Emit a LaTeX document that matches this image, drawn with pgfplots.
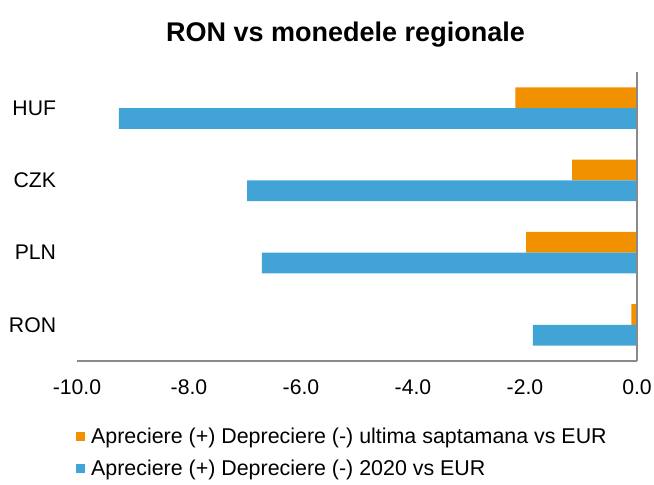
\documentclass[border=0pt]{standalone}
\usepackage{fontspec}
\setmainfont{Liberation Sans}
\usepackage{pgfplots}
\pgfplotsset{compat=1.18}
\definecolor{orangeA}{RGB}{242,145,0}
\definecolor{blueB}{RGB}{65,163,214}
\definecolor{axgray}{RGB}{137,137,137}
\begin{document}
\begin{tikzpicture}
\begin{axis}[
  scale only axis,
  width=280pt, height=144.5pt,
  xmin=-10, xmax=0, ymin=-0.5, ymax=3.5,
  xbar, bar width=10.35pt,
  xtick={-10,-8,-6,-4,-2,0},
  ytick={0,1,2,3},
  yticklabels={RON,PLN,CZK,HUF},
  axis x line*=bottom, axis y line*=left,
  y axis line style={draw=none},
  x axis line style={draw=axgray, line width=0.75pt, -},
  xtick style={draw=none}, ytick style={draw=none},
  /pgf/number format/.cd, fixed, fixed zerofill, precision=1, assume math mode=true,
  /pgfplots/.cd,
  xticklabel style={font=\fontsize{10.6}{12}\selectfont, anchor=center, yshift=-13.3pt},
  yticklabel style={font=\fontsize{10.6}{12}\selectfont, anchor=east, inner sep=0pt, xshift=-6pt},
  legend style={at={(axis description cs:0,0)}, anchor=west, xshift=-0.5pt, yshift=-46.5pt,
    draw=none, fill=none, inner sep=0pt, outer sep=0pt,
    font=\fontsize{10.7}{12}\selectfont,
    nodes={inner sep=0pt, text height=8pt, text depth=3pt, anchor=west},
    column sep=3pt, row sep=5pt},
  legend cell align=left,
  clip=false,
]
\addplot[fill=orangeA, draw=none, bar shift=5.2pt,
  legend image code/.code={\fill[orangeA] (0pt,-1.5pt) rectangle (4.6pt,3.1pt);}]
  coordinates {(-0.10,0) (-1.98,1) (-1.16,2) (-2.17,3)};
\addlegendentry{Apreciere (+) Depreciere (-) ultima saptamana vs EUR}
\addplot[fill=blueB, draw=none, bar shift=-5.2pt,
  legend image code/.code={\fill[blueB] (0pt,-1.5pt) rectangle (4.6pt,3.1pt);}]
  coordinates {(-1.86,0) (-6.70,1) (-6.96,2) (-9.25,3)};
\addlegendentry{Apreciere (+) Depreciere (-) 2020 vs EUR}
\draw[axgray, line width=0.75pt] (axis cs:0,-0.5) -- (axis cs:0,3.5);
\end{axis}
\node[anchor=base, font=\fontsize{13.5}{15}\selectfont\bfseries, inner sep=0pt]
  at ([xshift=134.25pt, yshift=160pt]current axis.south west) {RON vs monedele regionale};
\pgfresetboundingbox
\path ([xshift=-38.5pt, yshift=-61.5pt]current axis.south west) rectangle ++(327pt,242pt);
\end{tikzpicture}
\end{document}
